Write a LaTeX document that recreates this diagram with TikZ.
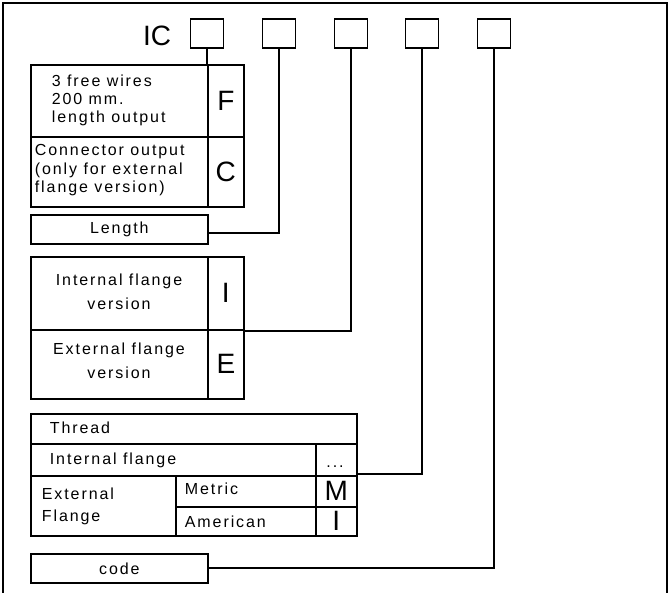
\documentclass[tikz,border=0pt]{standalone}
\usepackage{fontspec}
\setmainfont{Liberation Sans}
\newfontfamily\trackraw{Liberation Sans}[LetterSpace=12]
\newcommand\trackfont{\trackraw\fontsize{16}{19}\selectfont}
\newcommand\bigletfont{\fontsize{28}{28}\selectfont}
\begin{document}
\begin{tikzpicture}[x=1pt,y=-1pt,line width=1.7pt,
  slot/.style={draw, minimum width=33pt, minimum height=29pt, inner sep=0pt},
  cell/.style={draw, anchor=north west, inner sep=0pt},
  lbl/.style={font=\trackfont, inner sep=0pt},
  bigl/.style={font=\bigletfont},
  wire/.style={draw, line width=1.7pt}]
\useasboundingbox (0,0) rectangle (670,593);
\clip (0,0) rectangle (670,593);
\draw[line width=1.9pt] (3,3) rectangle (667,620);

% code slots
\node[font=\bigletfont, inner sep=0pt] (ic) at (157,36) {IC};
\node[slot] (s1) at (207,33.5) {};
\node[slot] (s2) at (279,33.5) {};
\node[slot] (s3) at (351,33.5) {};
\node[slot] (s4) at (422,33.5) {};
\node[slot] (s5) at (494,33.5) {};

% output table
\node[cell, minimum width=177pt, minimum height=72pt] (fl) at (30,64) {};
\node[cell, bigl, minimum width=36pt, minimum height=72pt] (fr) at (207,64) {F};
\node[cell, minimum width=177pt, minimum height=70pt] (cl) at (30,136) {};
\node[cell, bigl, minimum width=36pt, minimum height=70pt] (cr) at (207,136) {C};
\node[lbl, anchor=base west] (f1) at (51,87) {3 free wires};
\node[lbl, anchor=base west] (f2) at (51,105) {200 mm.};
\node[lbl, anchor=base west] (f3) at (51,123) {length output};
\node[lbl, anchor=base west] (c1) at (34,156) {Connector output};
\node[lbl, anchor=base west] (c2) at (34,174.5) {(only for external};
\node[lbl, anchor=base west] (c3) at (34,193) {flange version)};

% length
\node[cell, lbl, minimum width=177pt, minimum height=29pt] (len) at (30,214) {Length};

% flange version table
\node[cell, minimum width=177pt, minimum height=73pt] (il) at (30,256) {};
\node[cell, bigl, minimum width=36pt, minimum height=73pt] (ir) at (207,256) {I};
\node[cell, minimum width=177pt, minimum height=69pt] (el) at (30,329) {};
\node[cell, bigl, minimum width=36pt, minimum height=69pt] (er) at (207,329) {E};
\node[lbl, anchor=base] (i1) at (119,286) {Internal flange};
\node[lbl, anchor=base] (i2) at (119,310) {version};
\node[lbl, anchor=base] (e1) at (119,355) {External flange};
\node[lbl, anchor=base] (e2) at (119,379) {version};

% thread table
\node[cell, minimum width=326pt, minimum height=30pt] (th) at (30,413) {};
\node[cell, minimum width=285pt, minimum height=32pt] (ifl) at (30,443) {};
\node[cell, minimum width=41pt, minimum height=32pt] (dots) at (315,443) {};
\node[cell, minimum width=145pt, minimum height=60pt] (ext) at (30,475) {};
\node[cell, minimum width=140pt, minimum height=31pt] (met) at (175,475) {};
\node[cell, bigl, minimum width=41pt, minimum height=31pt] (mm) at (315,475) {M};
\node[cell, minimum width=140pt, minimum height=29pt] (am) at (175,506) {};
\node[cell, bigl, minimum width=41pt, minimum height=29pt] (ai) at (315,506) {I};
\node[lbl, anchor=base west] (t1) at (49,434) {Thread};
\node[lbl, anchor=base west] (t2) at (49,465) {Internal flange};
\node[lbl, anchor=base] (t3) at (335,468) {...};
\node[lbl, anchor=base west] (t4) at (41,500) {External};
\node[lbl, anchor=base west] (t5) at (41,522) {Flange};
\node[lbl, anchor=base west] (t6) at (184,495) {Metric};
\node[lbl, anchor=base west] (t7) at (184,528) {American};

% code
\node[cell, lbl, minimum width=177pt, minimum height=29pt] (code) at (30,553) {code};

% connectors
\draw[wire] (s1.south) -- (s1.south |- fl.north);
\draw[wire] (s2.south) |- ([yshift=-3.5pt]len.east);
\draw[wire] (s3.south) |- (ir.south east);
\draw[wire] (s4.south) |- ([yshift=3pt]dots.south east);
\draw[wire] (s5.south) |- (code.east);
\end{tikzpicture}
\end{document}
